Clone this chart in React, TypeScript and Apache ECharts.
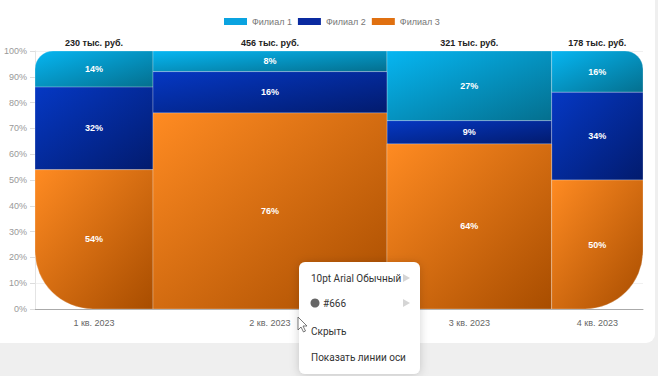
import React, { useEffect, useRef } from "react";
import * as echarts from "echarts";

const categories = ["1 кв. 2023", "2 кв. 2023", "3 кв. 2023", "4 кв. 2023"];
const totals = [230, 456, 321, 178];
const totalLabels = ["230 тыс. руб.", "456 тыс. руб.", "321 тыс. руб.", "178 тыс. руб."];
const seriesNames = ["Филиал 1", "Филиал 2", "Филиал 3"];
const filial1 = [14, 8, 27, 16];
const filial2 = [32, 16, 9, 34];
const filial3 = [54, 76, 64, 50];
const yTicks = [0, 10, 20, 30, 40, 50, 60, 70, 80, 90, 100];

const legendColors = ["#0aa3e0", "#0a2aa0", "#e07010"];
const gradStops = [
  ["#06b6f2", "#046f8e"],
  ["#0538c4", "#021b6e"],
  ["#ff8b22", "#a84d00"],
];
const FONT = "'Liberation Sans', Arial, sans-serif";
const MENU_FONT = "Roboto, 'Noto Sans', sans-serif";

export default function App() {
  const ref = useRef<HTMLDivElement>(null);
  useEffect(() => {
    if (!ref.current) return;
    const chart = echarts.init(ref.current, null, { renderer: "svg" });
    const sum = totals.reduce((a, b) => a + b, 0);
    const starts: number[] = [];
    let acc = 0;
    totals.forEach((t) => {
      starts.push(acc);
      acc += t;
    });
    const lists = [filial1, filial2, filial3];
    const segData = (si: number) =>
      totals.map((t, i) => {
        let y0 = 0;
        if (si === 1) y0 = filial3[i];
        if (si === 0) y0 = filial3[i] + filial2[i];
        const v = lists[si][i];
        return [starts[i], starts[i] + t, y0, y0 + v, v, i];
      });
    const last = totals.length - 1;
    const makeSeries = (si: number) => ({
      type: "custom",
      name: seriesNames[si],
      itemStyle: { color: legendColors[si] },
      data: segData(si),
      z: 3,
      renderItem: (params: any, api: any) => {
        const x0 = api.value(0), x1 = api.value(1), y0 = api.value(2), y1 = api.value(3);
        const pct = api.value(4);
        const idx = api.value(5);
        const tl = api.coord([x0, y1]);
        const br = api.coord([x1, y0]);
        let r: number[] = [0, 0, 0, 0];
        if (idx === 0 && si === 0) r = [18, 0, 0, 0];
        if (idx === 0 && si === 2) r = [0, 0, 0, 58];
        if (idx === last && si === 0) r = [0, 18, 0, 0];
        if (idx === last && si === 2) r = [0, 0, 58, 0];
        const w = br[0] - tl[0];
        const h = br[1] - tl[1];
        return {
          type: "group",
          children: [
            {
              type: "rect",
              shape: { x: tl[0], y: tl[1], width: w, height: h, r },
              style: {
                fill: new echarts.graphic.LinearGradient(0, 0, 1, 1, [
                  { offset: 0, color: gradStops[si][0] },
                  { offset: 1, color: gradStops[si][1] },
                ]),
                stroke: "rgba(255,255,255,0.25)",
                lineWidth: 1,
              },
            },
            {
              type: "text",
              x: tl[0] + w / 2,
              y: tl[1] + h / 2,
              style: {
                text: pct + "%",
                fill: "#ffffff",
                font: "bold 9px " + FONT,
                align: "center",
                verticalAlign: "middle",
              },
            },
          ],
        };
      },
    });

    const labelSeries = {
      type: "custom",
      data: totals.map((t, i) => [starts[i], starts[i] + t, i]),
      z: 4,
      silent: true,
      renderItem: (params: any, api: any) => {
        const i = api.value(2);
        const top = api.coord([(api.value(0) + api.value(1)) / 2, 100]);
        const bot = api.coord([(api.value(0) + api.value(1)) / 2, 0]);
        return {
          type: "group",
          children: [
            {
              type: "text",
              x: top[0],
              y: top[1] - 8,
              style: {
                text: totalLabels[i],
                fill: "#222",
                font: "bold 9px " + FONT,
                align: "center",
                verticalAlign: "middle",
              },
            },
            {
              type: "text",
              x: bot[0],
              y: bot[1] + 14,
              style: {
                text: categories[i],
                fill: "#666",
                font: "9px " + FONT,
                align: "center",
                verticalAlign: "middle",
              },
            },
          ],
        };
      },
    };

    const mx = 299, my = 262;
    const MZ = 100;
    chart.setOption({
      animation: false,
      legend: {
        top: 12,
        left: 219,
        itemWidth: 23,
        itemHeight: 7,
        itemGap: 6,
        icon: "rect",
        data: seriesNames,
        textStyle: { fontSize: 9, color: "#777", fontFamily: FONT },
      },
      grid: { left: 35, right: 15, top: 51, bottom: 67 },
      xAxis: {
        type: "value",
        min: 0,
        max: sum,
        axisLine: { show: true, lineStyle: { color: "#aaa" } },
        axisTick: { show: false },
        axisLabel: { show: false },
        splitLine: { show: false },
      },
      yAxis: {
        type: "value",
        min: yTicks[0],
        max: yTicks[yTicks.length - 1],
        interval: 10,
        axisLine: { show: true, lineStyle: { color: "#e4e4e4" } },
        axisTick: { show: true, length: 5, lineStyle: { color: "#ddd" } },
        axisLabel: { formatter: "{value}%", fontSize: 9, color: "#999", margin: 8, fontFamily: FONT },
        splitLine: { show: true, lineStyle: { color: "#f0f0f0" } },
      },
      graphic: [
        { type: "rect", z: -10, silent: true, shape: { x: 0, y: 0, width: 658, height: 376 }, style: { fill: "#efefef" } },
        { type: "rect", z: -9, silent: true, shape: { x: -10, y: -10, width: 665, height: 353, r: 9 }, style: { fill: "#ffffff" } },
        {
          type: "rect",
          z: MZ,
          shape: { x: mx, y: my, width: 121, height: 112, r: 6 },
          style: { fill: "#ffffff", shadowBlur: 10, shadowColor: "rgba(0,0,0,0.18)", shadowOffsetY: 1 },
        },
        { type: "text", z: MZ + 1, style: { text: "10pt Arial Обычный", x: mx + 12, y: my + 16, fill: "#333", font: "10px " + MENU_FONT, verticalAlign: "middle" } },
        { type: "polygon", z: MZ + 1, shape: { points: [[mx + 104, my + 12], [mx + 104, my + 20], [mx + 111, my + 16]] }, style: { fill: "#d5d5d5" } },
        { type: "circle", z: MZ + 1, shape: { cx: mx + 16, cy: my + 41, r: 4.5 }, style: { fill: "#666" } },
        { type: "text", z: MZ + 1, style: { text: "#666", x: mx + 24, y: my + 41, fill: "#333", font: "10px " + MENU_FONT, verticalAlign: "middle" } },
        { type: "polygon", z: MZ + 1, shape: { points: [[mx + 104, my + 37], [mx + 104, my + 45], [mx + 111, my + 41]] }, style: { fill: "#d5d5d5" } },
        { type: "text", z: MZ + 1, style: { text: "Скрыть", x: mx + 12, y: my + 69, fill: "#333", font: "10px " + MENU_FONT, verticalAlign: "middle" } },
        { type: "text", z: MZ + 1, style: { text: "Показать линии оси", x: mx + 12, y: my + 95, fill: "#333", font: "10px " + MENU_FONT, verticalAlign: "middle" } },
        {
          type: "polygon",
          z: MZ + 2,
          shape: { points: [[298, 317], [298, 330], [301, 327], [303.5, 332], [305.5, 331], [303, 326], [307, 326]] },
          style: { fill: "#ffffff", stroke: "#555", lineWidth: 0.8 },
        },
      ],
      series: [makeSeries(0), makeSeries(1), makeSeries(2), labelSeries],
    });
    return () => chart.dispose();
  }, []);
  return (
    <div style={{ position: "absolute", left: 0, top: 0, width: 658, height: 376 }}>
      <div ref={ref} style={{ width: 658, height: 376 }} />
    </div>
  );
}
